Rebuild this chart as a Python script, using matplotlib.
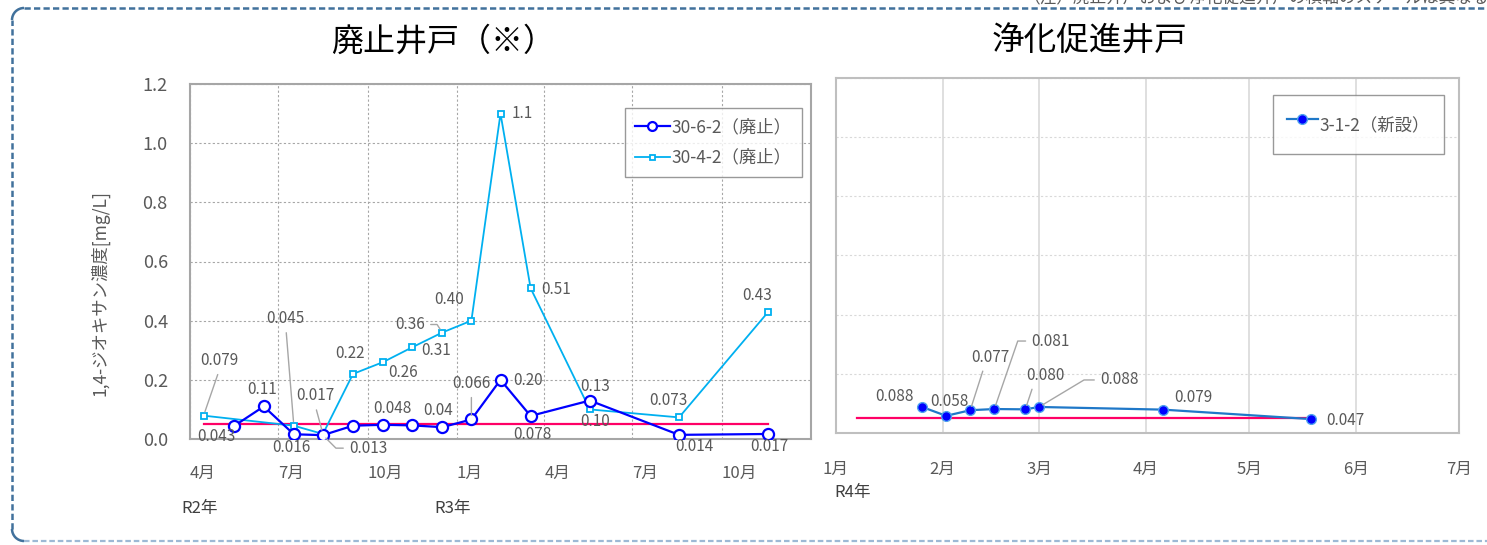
import numpy as np
import pandas as pd
import matplotlib
matplotlib.use('Agg')
import matplotlib.pyplot as plt
from matplotlib.lines import Line2D
from matplotlib.patches import Arc

plt.rcParams['font.family'] = ['Noto Sans CJK JP', 'DejaVu Sans']

# ---- data ----------------------------------------------------------------
# 30-6-2 (廃止)
dates_30_6_2 = pd.to_datetime([
    '2020-05-16', '2020-06-16', '2020-07-17', '2020-08-16', '2020-09-16',
    '2020-10-17', '2020-11-16', '2020-12-17', '2021-01-16', '2021-02-15',
    '2021-03-18', '2021-05-18', '2021-08-18', '2021-11-18'])
conc_30_6_2 = [0.043, 0.11, 0.016, 0.013, 0.045, 0.048, 0.046, 0.04,
               0.066, 0.20, 0.078, 0.13, 0.014, 0.017]
decimals_30_6_2 = [3, 2, 3, 3, None, 3, None, 2, 3, 2, 3, 2, 3, 3]

# 30-4-2 (廃止)
dates_30_4_2 = pd.to_datetime([
    '2020-04-15', '2020-07-17', '2020-08-16', '2020-09-16', '2020-10-17',
    '2020-11-16', '2020-12-17', '2021-01-16', '2021-02-15', '2021-03-18',
    '2021-05-18', '2021-08-18', '2021-11-18'])
conc_30_4_2 = [0.079, 0.045, 0.017, 0.22, 0.26, 0.31, 0.36, 0.40,
               1.1, 0.51, 0.10, 0.073, 0.43]
decimals_30_4_2 = [3, 3, 3, 2, 2, 2, 2, 2, 1, 2, 2, 3, 2]

# 3-1-2 (新設)
dates_3_1_2 = pd.to_datetime([
    '2022-01-26', '2022-02-02', '2022-02-09', '2022-02-16', '2022-02-25',
    '2022-03-01', '2022-04-06', '2022-05-19'])
conc_3_1_2 = [0.088, 0.058, 0.077, 0.081, 0.080, 0.088, 0.079, 0.047]
decimals_3_1_2 = [3] * 8

# environmental standard 0.05 mg/L
standard = 0.05
std_span_left = pd.to_datetime(['2020-04-15', '2021-11-18'])
std_span_right = pd.to_datetime(['2022-01-07', '2022-05-19'])

# ---- label placement (pixel offsets, x right / y down) ----------------------
offsets_30_6_2 = [(-17, 10), (-2, -17), (-2, 13), (45, 13), None, (9, -16), None,
                  (-4, -17), (0, -36), (28, 1), (2, 19), (5, -14), (15, 12), (1, 13)]
leaders_30_6_2 = {3: ((0, 0.5), -45), 8: ((0.5, 0), None)}

offsets_30_4_2 = [(16, -55), (-8, -107), (-8, -38), (-3, -20), (20, 10), (24, 3),
                  (-32, -8), (-22, -21), (22, 0), (26, 1), (5, 12), (-11, -17), (-11, -16)]
leaders_30_4_2 = {0: ((0.5, 0), None), 1: ((0.5, 0), None), 2: ((0.5, 0), None),
                  6: ((1, 0.5), -57)}

offsets_3_1_2 = [(-28, -10), (3, -14), (20, -53), (56, -68), (20, -34), (80, -27),
                 (30, -12), (34, 1)]
leaders_3_1_2 = {2: ((0.35, 0), None), 3: ((0, 0.5), 71), 4: ((0.2, 0), None),
                 5: ((0, 0.5), 31)}

W, H = 1487, 545
LABEL_C = '#595959'
LEADER_C = '#A6A6A6'


def add_labels(ax, dates, values, decimals, offsets, leaders):
    for i, (d, v) in enumerate(zip(dates, values)):
        if decimals[i] is None:
            continue
        dx, dy = offsets[i]
        kw = {}
        if i in leaders:
            relpos, angle_b = leaders[i]
            ap = dict(arrowstyle='-', color=LEADER_C, lw=1, relpos=relpos,
                      shrinkA=2, shrinkB=3)
            if angle_b is not None:
                ap['connectionstyle'] = f'angle,angleA=0,angleB={angle_b},rad=0'
            kw['arrowprops'] = ap
        ax.annotate(f'{v:.{decimals[i]}f}', xy=(d, v),
                    xytext=(dx * 0.72, -dy * 0.72), textcoords='offset points',
                    ha='center', va='center', fontsize=11, color=LABEL_C,
                    zorder=6, **kw)


fig = plt.figure(figsize=(W / 100, H / 100), dpi=100)
fig.patch.set_facecolor('white')

# ---- left chart: abandoned wells ---------------------------------------------
ax1 = fig.add_axes([190 / W, (H - 439) / H, 621 / W, 355 / H])
ax1.plot(std_span_left, [standard, standard], color='#FF0066', lw=1.6, zorder=2)
ax1.plot(dates_30_6_2, conc_30_6_2, color='#0000FF', lw=1.6, marker='o',
         markersize=8, mfc='white', mec='#0000FF', mew=1.6, zorder=4,
         label='30-6-2（廃止）')
ax1.plot(dates_30_4_2, conc_30_4_2, color='#00B0F0', lw=1.3, marker='s',
         markersize=4.5, mfc='white', mec='#00B0F0', mew=1.3, zorder=3,
         label='30-4-2（廃止）')

ax1.set_xlim(pd.Timestamp('2020-04-01'), pd.Timestamp('2022-01-01'))
ax1.set_ylim(0, 1.2)
yt = np.arange(0, 1.21, 0.2)
ax1.set_yticks(yt)
ax1.set_yticklabels([f'{t:.1f}' for t in yt])
xt = pd.date_range('2020-04-01', '2021-10-01', freq='3MS')
ax1.set_xticks(xt)
ax1.set_xticklabels([f'{d.month}月' for d in xt])
for lab in ax1.get_xticklabels():
    lab.set_ha('left')
ax1.tick_params(length=0, colors=LABEL_C)
ax1.tick_params(axis='x', pad=19, labelsize=12)
ax1.tick_params(axis='y', pad=16, labelsize=13)
ax1.grid(True, color='#A6A6A6', linestyle=(0, (2, 2)), lw=0.8)
ax1.set_axisbelow(True)
for sp in ax1.spines.values():
    sp.set_color('#A6A6A6')
    sp.set_linewidth(1.5)

add_labels(ax1, dates_30_6_2, conc_30_6_2, decimals_30_6_2, offsets_30_6_2, leaders_30_6_2)
add_labels(ax1, dates_30_4_2, conc_30_4_2, decimals_30_4_2, offsets_30_4_2, leaders_30_4_2)

leg1 = ax1.legend(loc='upper right', bbox_to_anchor=(0.9855, 0.932), fontsize=12.5,
                  frameon=True, fancybox=False, edgecolor='#808080',
                  handlelength=2.0, labelspacing=0.7, borderpad=0.6,
                  borderaxespad=0, handletextpad=0.1, markerscale=0.8,
                  labelcolor=LABEL_C)
leg1.get_frame().set_linewidth(1.0)

# ---- right chart: purification wells -----------------------------------------
ax2 = fig.add_axes([836 / W, (H - 433) / H, 623 / W, 355 / H])
ax2.plot(std_span_right, [standard, standard], color='#FF0066', lw=1.6, zorder=2)
ax2.plot(dates_3_1_2, conc_3_1_2, color='#1F78C8', lw=1.6, marker='o',
         markersize=7, mfc='#0000FF', mec='#4FA3EE', mew=1.0, zorder=4,
         label='3-1-2（新設）')

ax2.set_xlim(pd.Timestamp('2022-01-01'), pd.Timestamp('2022-07-01'))
ax2.set_ylim(0, 1.2)
ax2.set_yticks(yt)
ax2.set_yticklabels([])
xt2 = pd.date_range('2022-01-01', '2022-07-01', freq='MS')
ax2.set_xticks(xt2)
ax2.set_xticklabels([f'{d.month}月' for d in xt2])
ax2.tick_params(length=0, colors=LABEL_C)
ax2.tick_params(axis='x', pad=20, labelsize=12)
ax2.grid(True, axis='x', color='#D9D9D9', lw=1.2)
ax2.grid(True, axis='y', color='#D9D9D9', linestyle=(0, (2, 2)), lw=0.8)
ax2.set_axisbelow(True)
for sp in ax2.spines.values():
    sp.set_color('#BFBFBF')
    sp.set_linewidth(1.5)

add_labels(ax2, dates_3_1_2, conc_3_1_2, decimals_3_1_2, offsets_3_1_2, leaders_3_1_2)

leg2 = ax2.legend(loc='upper right', bbox_to_anchor=(0.976, 0.952), fontsize=12.5,
                  frameon=True, fancybox=False, edgecolor='#808080',
                  handlelength=1.8, handleheight=2.4, borderpad=0.8,
                  borderaxespad=0, handletextpad=0.1, labelcolor=LABEL_C)
leg2.get_frame().set_linewidth(1.0)

# ---- titles and free text ----------------------------------------------------
fig.text(443 / W, (H - 42) / H, '廃止井戸（※）', fontsize=23, ha='center', va='center')
fig.text(1089 / W, (H - 42) / H, '浄化促進井戸', fontsize=23.5, ha='center', va='center')
fig.text(100 / W, (H - 293) / H, '1,4-ジオキサン濃度[mg/L]', rotation=90,
         fontsize=12.5, color=LABEL_C, ha='center', va='center')
fig.text(200 / W, (H - 508) / H, 'R2年', fontsize=12, color='#404040', ha='center', va='center')
fig.text(453 / W, (H - 508) / H, 'R3年', fontsize=12, color='#404040', ha='center', va='center')
fig.text(853 / W, (H - 493) / H, 'R4年', fontsize=12, color='#404040', ha='center', va='center')
fig.text(1023 / W, (H + 1) / H, '（注）廃止井戸および浄化促進井戸の横軸のスケールは異なる',
         fontsize=12, color=LABEL_C, ha='left', va='center')

# dashed frame around both charts (inches via dpi_scale_trans)
tr = fig.dpi_scale_trans
dark = '#41719C'
light = '#9DB9D5'
dash = (0, (2.5, 1.3))
fig.add_artist(Line2D([0.24, 15.2], [5.37, 5.37], color=dark, lw=1.8,
                      linestyle=dash, transform=tr))
fig.add_artist(Line2D([0.12, 0.12], [0.16, 5.25], color=dark, lw=1.8,
                      linestyle=dash, transform=tr))
fig.add_artist(Arc((0.24, 5.25), 0.24, 0.24, theta1=90, theta2=180, color=dark,
                   lw=1.8, transform=tr))
fig.add_artist(Arc((0.24, 0.16), 0.24, 0.24, theta1=180, theta2=270, color=dark,
                   lw=1.8, transform=tr))
fig.add_artist(Line2D([0.24, 15.2], [0.04, 0.04], color=light, lw=1.6,
                      linestyle=dash, transform=tr))

fig.savefig('out.png', dpi=100)
